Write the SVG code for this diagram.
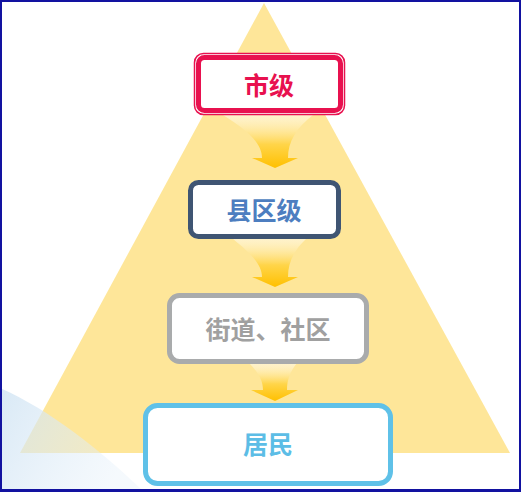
<svg xmlns="http://www.w3.org/2000/svg" width="521" height="492" viewBox="0 0 521 492">
<defs>
<linearGradient id="ag" x1="0" y1="0" x2="0" y2="1">
<stop offset="0" stop-color="#ffffff" stop-opacity="0.5"/>
<stop offset="0.55" stop-color="#ffd54a"/>
<stop offset="1" stop-color="#ffc000"/>
</linearGradient>
<linearGradient id="bg" x1="0" y1="0" x2="1" y2="0.4">
<stop offset="0" stop-color="#cfe3f3" stop-opacity="0.8"/>
<stop offset="1" stop-color="#e6f1fa" stop-opacity="0.4"/>
</linearGradient>
<style>
.lbl{font-family:"Noto Sans CJK SC","Liberation Sans",sans-serif;font-weight:bold;font-size:25px;text-anchor:middle;dominant-baseline:central}
.box{fill:#ffffff;stroke-width:5}
</style>
</defs>
<rect x="0" y="0" width="521" height="492" fill="#ffffff"/>
<polygon points="264,3 510,453 20,453" fill="#fee699"/>
<path d="M0,388 C50,410 100,450 142,490 L0,490 Z" fill="url(#bg)"/>
<g id="connectors">
<path d="M223,115 L313,115 C296,128 288,142 288,158 L298,158 L275,168 L252,158 L262,158 C262,142 244,128 223,115 Z" fill="url(#ag)"/>
<path d="M232,238 L307,238 C294,250 288,262 288,277 L298,277 L275,287 L252,277 L262,277 C262,262 246,250 232,238 Z" fill="url(#ag)"/>
<path d="M249,363 L297,363 C290,372 287,380 287,390 L298,390 L275,401 L251,390 L263,390 C263,380 258,372 249,363 Z" fill="url(#ag)"/>
</g>
<g id="node-city">
<rect x="194.5" y="53.5" width="150" height="61" rx="9" fill="#ffffff" stroke="#e8114f" stroke-width="1.5"/>
<rect x="198.5" y="57.5" width="142" height="53" rx="6" class="box" stroke="#e8114f" stroke-width="4.5"/>
<text x="269" y="84" class="lbl" fill="#e8114f">市级</text>
</g>
<g id="node-county">
<rect x="190.5" y="182.5" width="148" height="54" rx="8" class="box" stroke="#3f5573"/>
<text x="264" y="209" class="lbl" fill="#4d7ec0">县区级</text>
</g>
<g id="node-street">
<rect x="169.5" y="295.5" width="197" height="66" rx="10" class="box" stroke="#a9abac"/>
<text x="268" y="328" class="lbl" fill="#a0a0a0">街道、社区</text>
</g>
<g id="node-resident">
<rect x="145.5" y="405.5" width="245" height="78" rx="12" class="box" stroke="#5fc1e8"/>
<text x="268" y="443" class="lbl" fill="#5cbde6">居民</text>
</g>
<rect x="1" y="1" width="519" height="489.5" fill="none" stroke="#1212a0" stroke-width="2"/>
<line x1="0" y1="490.5" x2="521" y2="490.5" stroke="#1212a0" stroke-width="3"/>
</svg>
